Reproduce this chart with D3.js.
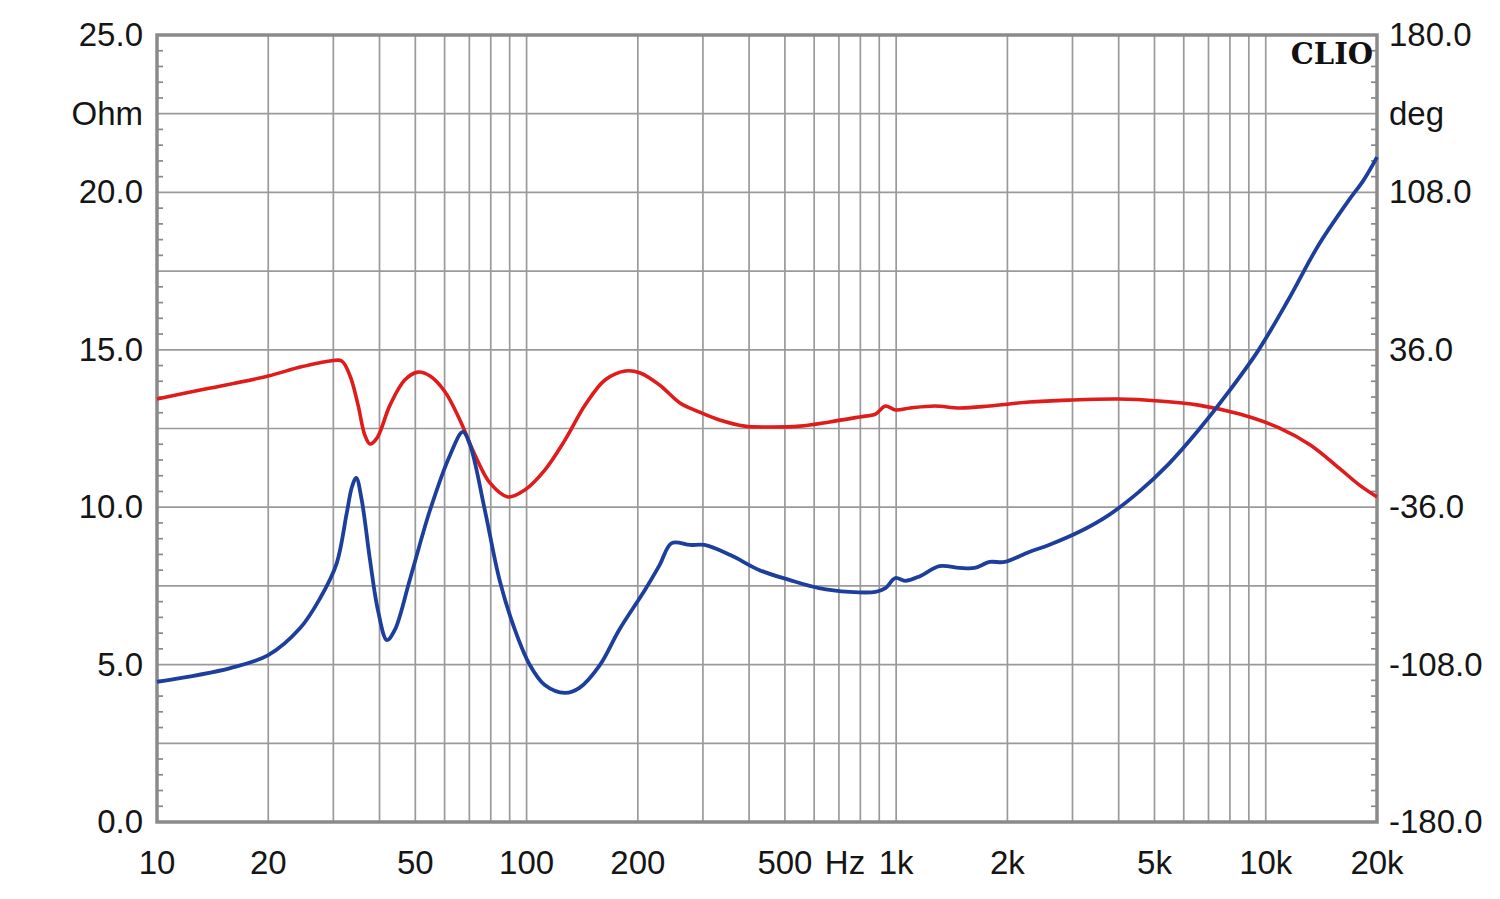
<!DOCTYPE html>
<html>
<head>
<meta charset="utf-8">
<style>
  body { margin: 0; background: #fff; }
  svg { display: block; }
  .lbl { font-family: "Liberation Sans", Arial, sans-serif; font-size: 33px; fill: #151515; }
</style>
</head>
<body>
<svg id="chart" width="1500" height="899"></svg>
<script src="https://d3js.org/d3.v7.min.js"></script>
<script>
// impedance magnitude (blue), ohm
const blueFreq = [10, 15.8, 20, 24.4, 27.6, 30.6, 32.6, 33.7, 34.6, 35.8, 37.7, 39.6, 41.9, 44, 48.3, 54.8, 62.1, 67.2, 70.3, 77.1, 84.5, 93, 102, 112, 127, 139, 158, 178, 209, 229, 247, 277, 303, 356, 427, 514, 618, 748, 879, 935, 995, 1058, 1160, 1310, 1485, 1630, 1790, 1965, 2290, 2590, 3120, 3760, 4530, 5460, 6580, 7930, 9560, 11500, 13900, 16800, 18400, 20000];
const blueOhm = [4.45, 4.89, 5.3, 6.16, 7.1, 8.2, 9.8, 10.65, 10.93, 10.23, 8.32, 6.73, 5.78, 6.1, 7.69, 9.91, 11.66, 12.39, 11.98, 9.91, 7.69, 6.1, 4.99, 4.35, 4.1, 4.26, 4.99, 6.1, 7.37, 8.16, 8.86, 8.8, 8.8, 8.48, 8.0, 7.69, 7.43, 7.31, 7.31, 7.43, 7.75, 7.66, 7.81, 8.13, 8.07, 8.07, 8.26, 8.26, 8.58, 8.8, 9.21, 9.75, 10.48, 11.37, 12.45, 13.66, 14.99, 16.58, 18.33, 19.76, 20.39, 21.12];

// phase (red), degrees
const redFreq = [10, 13.1, 20, 24.4, 29.4, 31.6, 33.3, 35, 36.5, 37.7, 39.4, 42.7, 46.8, 50.8, 54.8, 60.2, 66, 72.5, 79.6, 89, 98.9, 112, 127, 144, 163, 185, 203, 229, 260, 294, 333, 389, 455, 549, 661, 796, 879, 935, 995, 1092, 1272, 1485, 1790, 2290, 2930, 4000, 5140, 6580, 8500, 10900, 13200, 15800, 17900, 20000];
const redDeg = [13.5, 17.6, 24.0, 28.1, 30.9, 30.9, 24.0, 10.7, -3.0, -7.1, -4.3, 10.7, 22.2, 25.8, 24.0, 16.7, 3.9, -12.1, -24.9, -31.3, -28.1, -19.0, -5.3, 10.7, 22.2, 26.3, 25.4, 19.9, 11.7, 7.5, 3.9, 1.1, 0.7, 1.1, 3.0, 5.3, 6.6, 10.3, 8.5, 9.4, 10.3, 9.4, 10.3, 12.1, 13.0, 13.5, 12.6, 10.7, 6.6, 0.2, -7.5, -18.1, -25.8, -31.3];

const xTickVals = [10, 20, 50, 100, 200, 500, 1000, 2000, 5000, 10000, 20000];
const xTickText = ["10", "20", "50", "100", "200", "500", "1k", "2k", "5k", "10k", "20k"];
const leftTicks = [0, 5, 10, 15, 20, 25];
const rightTicks = [-180, -108, -36, 36, 108, 180];

const pLeft = 157, pRight = 1377, pTop = 35, pBottom = 822;
const svg = d3.select('#chart');

const x = d3.scaleLog().domain([10, 20000]).range([pLeft, pRight]);
const yOhm = d3.scaleLinear().domain([0, 25]).range([pBottom, pTop]);
const yDeg = d3.scaleLinear().domain([-180, 180]).range([pBottom, pTop]);

const gridColor = '#9a9a9a';
const grid = svg.append('g');

// vertical log grid
let gridFreqs = [];
[10, 100, 1000, 10000].forEach(d => {
    for (let k = 1; k <= 9; k++) {
        const f = d * k;
        if (f > 10 && f < 20000) gridFreqs.push(f);
    }
});
grid.selectAll('line.v').data(gridFreqs).enter().append('line')
    .attr('x1', d => x(d)).attr('x2', d => x(d))
    .attr('y1', pTop).attr('y2', pBottom)
    .style('stroke', gridColor).style('stroke-width', 1.7);

// horizontal grid, every 2.5 ohm
const hLines = d3.range(2.5, 25, 2.5);
grid.selectAll('line.h').data(hLines).enter().append('line')
    .attr('x1', pLeft).attr('x2', pRight)
    .attr('y1', d => yOhm(d)).attr('y2', d => yOhm(d))
    .style('stroke', gridColor).style('stroke-width', 1.7);

// minor inward ticks on both sides
const minor = d3.range(0.5, 25, 0.5).filter(v => Math.abs(v / 2.5 - Math.round(v / 2.5)) > 1e-6);
grid.selectAll('line.ml').data(minor).enter().append('line')
    .attr('x1', pLeft).attr('x2', pLeft + 6)
    .attr('y1', d => yOhm(d)).attr('y2', d => yOhm(d))
    .style('stroke', '#888').style('stroke-width', 1.7);
grid.selectAll('line.mr').data(minor).enter().append('line')
    .attr('x1', pRight - 6).attr('x2', pRight)
    .attr('y1', d => yOhm(d)).attr('y2', d => yOhm(d))
    .style('stroke', '#888').style('stroke-width', 1.7);

// frame
svg.append('rect')
    .attr('x', pLeft).attr('y', pTop)
    .attr('width', pRight - pLeft).attr('height', pBottom - pTop)
    .style('fill', 'none').style('stroke', '#8a8a8a').style('stroke-width', 3.5);

// curves
const line = d3.line().curve(d3.curveCatmullRom.alpha(0.5));
svg.append('path')
    .datum(redFreq.map((f, i) => [x(f), yDeg(redDeg[i])]))
    .attr('d', line)
    .style('fill', 'none').style('stroke', '#e01b1b').style('stroke-width', 3.6);
svg.append('path')
    .datum(blueFreq.map((f, i) => [x(f), yOhm(blueOhm[i])]))
    .attr('d', line)
    .style('fill', 'none').style('stroke', '#1d3f9b').style('stroke-width', 3.8);

// labels
const labels = svg.append('g');
labels.selectAll('text.l').data(leftTicks).enter().append('text')
    .attr('class', 'lbl').attr('text-anchor', 'end')
    .attr('x', 143).attr('y', d => yOhm(d) + 11)
    .text(d => d.toFixed(1));
labels.append('text').attr('class', 'lbl').attr('text-anchor', 'end')
    .attr('x', 143).attr('y', yOhm(22.5) + 11).text('Ohm');

labels.selectAll('text.r').data(rightTicks).enter().append('text')
    .attr('class', 'lbl').attr('text-anchor', 'start')
    .attr('x', 1389).attr('y', d => yDeg(d) + 11)
    .text(d => d.toFixed(1));
labels.append('text').attr('class', 'lbl').attr('text-anchor', 'start')
    .attr('x', 1389).attr('y', yOhm(22.5) + 11).text('deg');

labels.selectAll('text.x').data(xTickVals).enter().append('text')
    .attr('class', 'lbl').attr('text-anchor', 'middle')
    .attr('x', d => x(d)).attr('y', 874)
    .text((d, i) => xTickText[i]);
labels.append('text').attr('class', 'lbl').attr('text-anchor', 'middle')
    .attr('x', x(727)).attr('y', 874).text('Hz');

svg.append('text')
    .attr('x', 1373).attr('y', 64).attr('text-anchor', 'end')
    .style('font-family', '"DejaVu Serif", "Liberation Serif", serif')
    .style('font-weight', 'bold').style('font-size', '29px').style('fill', '#111')
    .text('CLIO');
</script>
</body>
</html>
